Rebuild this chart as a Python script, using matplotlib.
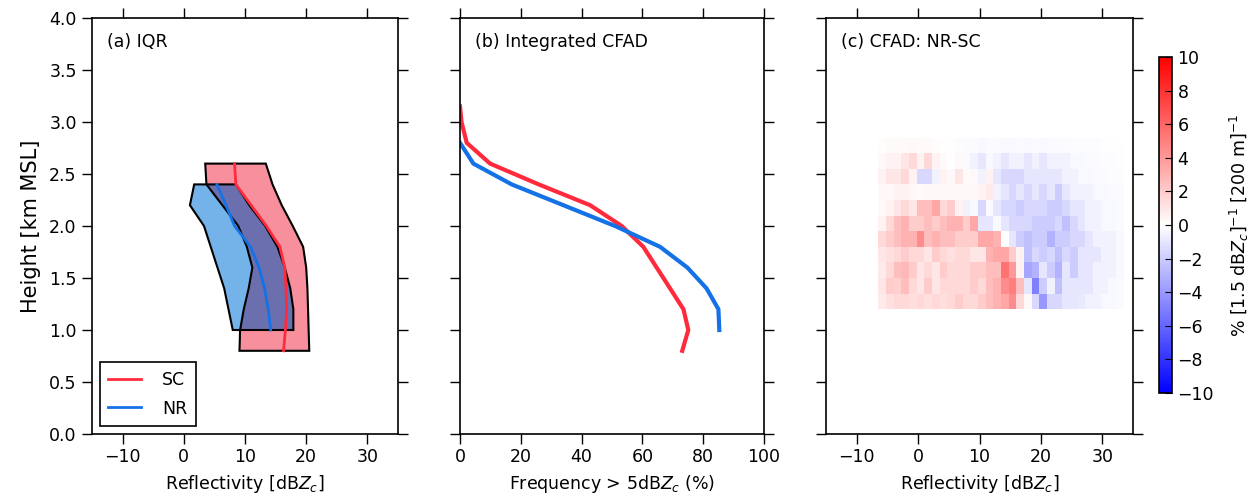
import numpy as np
import matplotlib
matplotlib.use("Agg")
import matplotlib.pyplot as plt

# ---------------- data ----------------
# (a) IQR profiles
sc_height = [0.8, 1.0, 1.2, 1.4, 1.6, 1.8, 2.0, 2.2, 2.4, 2.6]
sc_q1     = [9.1, 9.2, 9.8, 10.6, 11.2, 10.3, 8.9, 6.3, 3.7, 3.5]
sc_med    = [16.3, 16.6, 16.8, 16.7, 16.5, 15.7, 13.5, 11.0, 8.5, 8.3]
sc_q3     = [20.5, 20.4, 20.3, 20.2, 20.0, 19.5, 17.8, 16.0, 14.5, 13.4]

nr_height = [1.0, 1.2, 1.4, 1.6, 1.8, 2.0, 2.2, 2.4]
nr_q1     = [8.0, 7.3, 6.6, 5.5, 4.4, 3.3, 1.0, 1.7]
nr_med    = [14.2, 13.8, 13.2, 12.3, 10.9, 8.3, 6.9, 5.4]
nr_q3     = [17.9, 17.9, 17.4, 16.5, 15.3, 13.3, 10.7, 8.5]

# (b) integrated CFAD: frequency > 5 dBZ (%)
sc_freq_height = [3.15, 3.0, 2.8, 2.6, 2.4, 2.2, 2.0, 1.8, 1.6, 1.4, 1.2, 1.0, 0.8]
sc_freq        = [0.0, 0.5, 2.2, 9.9, 25.9, 42.8, 53.2, 60.3, 64.7, 69.1, 73.5, 75.1, 73.1]
nr_freq_height = [2.8, 2.6, 2.4, 2.2, 2.0, 1.8, 1.6, 1.4, 1.2, 1.0]
nr_freq        = [0.0, 4.4, 17.0, 34.0, 51.0, 65.8, 74.8, 81.1, 85.0, 85.3]

# (c) CFAD difference NR-SC, rows from bottom (1.2 km) upward, bins of reflectivity
cfad_x0, cfad_dx = -6.5, 1.25
cfad_y0, cfad_dy = 1.2, 0.15
cfad_diff = [
    [0.8, 1.2, 1.5, 1.5, 1.3, 1.5, 1.2, 1.5, 1.3, 1.5, 2.0, 1.5, 1.5, 2.0, 2.5, 3.0, 3.5, 4.5, 1.5, 0.3, -1.5,
     -4.0, -1.5, -1.5, -1.0, -1.0, -0.8, -0.5, -0.5, -0.3, -0.3, -0.2],
    [1.0, 2.0, 1.8, 2.5, 1.5, 1.0, 2.0, 1.0, 1.5, 1.5, 1.5, 1.5, 2.0, 1.5, 2.5, 3.0, 4.5, 5.0, 2.5, -1.0, -5.0,
     -2.0, -0.5, -2.5, -1.0, -1.0, -1.0, -1.0, -0.5, -0.5, -0.3, -0.2],
    [0.8, 1.5, 2.5, 2.8, 2.0, 1.0, 1.5, 1.0, 2.0, 1.5, 1.5, 1.5, 2.0, 2.0, 2.5, 2.5, 5.5, 4.0, 0.5, -3.5, -3.0,
     -1.0, -2.0, -3.0, -1.0, -2.0, -1.0, -1.0, -0.5, -0.5, -0.5, -0.3],
    [1.0, 1.2, 1.5, 2.0, 1.5, 1.5, 1.0, 2.0, 1.5, 1.2, 1.5, 1.5, 1.0, 1.0, 3.0, 3.5, 3.5, 2.0, 0.5, -2.5, -1.5,
     -2.0, -1.5, -2.5, -1.5, -2.0, -1.0, -1.0, -1.0, -0.5, -0.5, -0.3],
    [1.5, 2.0, 2.5, 3.0, 3.0, 4.5, 2.5, 3.0, 2.5, 2.5, 2.0, 2.0, 2.0, 3.5, 3.5, 3.0, 0.0, -1.0, -2.0, -2.5, -2.0,
     -2.0, -3.0, -2.0, -2.0, -1.5, -1.5, -1.0, -0.5, -0.5, -0.5, -0.3],
    [0.5, 1.5, 2.5, 3.0, 2.0, 2.0, 2.5, 2.0, 2.5, 3.0, 3.0, 2.0, 3.5, -1.0, -1.0, -0.3, -1.0, -1.5, -1.5, -1.5, -2.0,
     -2.0, -2.0, -1.5, -2.5, -1.5, -1.0, -0.5, -0.5, -0.3, -0.3, -0.2],
    [0.3, 0.5, 1.0, 1.5, 1.0, 2.5, 2.5, 3.5, 1.5, 2.0, 0.5, -0.5, -0.3, -1.5, -0.2, -1.0, -1.5, -1.5, -2.0, -1.5, -1.5,
     -1.5, -2.0, -2.0, -1.5, -1.0, -1.0, -0.5, -0.5, -0.3, -0.3, -0.2],
    [0.3, 0.3, 0.5, 0.5, 0.3, 0.2, 0.3, 0.3, 0.3, 0.3, 0.3, 0.3, 0.3, 0.5, 0.8, -0.5, -1.0, -1.5, -1.0, -1.5, -1.0,
     -1.5, -1.0, -2.0, -1.0, -0.5, -0.5, -0.5, -0.3, -0.3, -0.2, -0.2],
    [0.5, 1.0, 1.0, 1.5, 0.5, -1.5, -1.5, -0.5, 0.5, 0.3, 1.0, 0.2, 0.3, -0.5, 0.5, -1.0, -1.5, -1.5, -1.5, -1.0, -1.0,
     -1.0, -1.0, -1.0, -0.5, -0.5, -0.3, -0.3, -0.2, -0.2, -0.1, -0.1],
    [0.3, 0.5, 0.5, 1.0, 1.5, 0.5, 1.5, 0.5, 0.2, 0.0, 0.2, -0.2, -0.5, -1.0, -0.3, -0.5, -1.0, -0.5, -0.5, -1.0, -0.5,
     -1.0, -0.5, -0.5, -0.5, -0.3, -0.3, -0.2, -0.2, -0.1, -0.1, 0.0],
    [0.1, 0.2, 0.2, 0.2, 0.3, 0.2, 0.2, 0.1, 0.0, 0.0, -0.1, -0.2, -0.2, -0.3, -0.2, -0.2, -0.3, -0.3, -0.2, -0.3, -0.2,
     -0.3, -0.2, -0.2, -0.2, -0.1, -0.1, -0.1, -0.1, 0.0, 0.0, 0.0],
]

refl_ticks = [-10, 0, 10, 20, 30]
freq_ticks = [0, 20, 40, 60, 80, 100]
height_ticks = [0.0, 0.5, 1.0, 1.5, 2.0, 2.5, 3.0, 3.5, 4.0]
cbar_ticks = [-10, -8, -6, -4, -2, 0, 2, 4, 6, 8, 10]

# ---------------- style ----------------
plt.rcParams['font.family'] = ['DejaVu Sans']
plt.rcParams['mathtext.fontset'] = 'dejavusans'
RED = '#ff2b3c'
BLUE = '#1472e6'
RED_FILL = '#f7909c'
BLUE_FILL = '#74b2ea'
OVER_FILL = '#6b6fae'
TICKFS = 12.5

fig = plt.figure(figsize=(12.53, 5.0), dpi=100)
axa = fig.add_axes([92/1253, 1-434/500, 306/1253, 416/500])
axb = fig.add_axes([460/1253, 1-434/500, 304/1253, 416/500])
axc = fig.add_axes([826/1253, 1-434/500, 307/1253, 416/500])
cax = fig.add_axes([1159/1253, 1-393/500, 13/1253, 336/500])

for ax in (axa, axb, axc):
    ax.set_ylim(0, 4)
    ax.set_yticks(height_ticks)
    ax.tick_params(direction='out', length=7, width=1, top=True, right=True,
                   labelsize=TICKFS, pad=4)
    ax.tick_params(axis='x', pad=3)
    for s in ax.spines.values():
        s.set_linewidth(1.2)

# ---- (a) ----
sc_h = np.array(sc_height); nr_h = np.array(nr_height)
axa.fill_betweenx(sc_h, sc_q1, sc_q3, facecolor=RED_FILL, edgecolor='none', zorder=1)
axa.fill_betweenx(nr_h, nr_q1, nr_q3, facecolor=BLUE_FILL, edgecolor='none', zorder=2)
sc_q1_on_nr = np.interp(nr_h, sc_h, sc_q1)
sc_q3_on_nr = np.interp(nr_h, sc_h, sc_q3)
axa.fill_betweenx(nr_h, np.maximum(sc_q1_on_nr, nr_q1), np.minimum(sc_q3_on_nr, nr_q3),
                  facecolor=OVER_FILL, edgecolor='none', zorder=3)
axa.fill(list(sc_q1) + list(sc_q3)[::-1], list(sc_height) + list(sc_height)[::-1],
         facecolor='none', edgecolor='k', lw=1.5, zorder=4)
axa.fill(list(nr_q1) + list(nr_q3)[::-1], list(nr_height) + list(nr_height)[::-1],
         facecolor='none', edgecolor='k', lw=1.5, zorder=4)
axa.plot(sc_med, sc_height, color=RED, lw=2, label='SC', zorder=5)
axa.plot(nr_med, nr_height, color=BLUE, lw=2, label='NR', zorder=5)
axa.set_xlim(-15, 35)
axa.set_xticks(refl_ticks)
axa.set_yticklabels(['%.1f' % v for v in height_ticks])
axa.set_ylabel('Height [km MSL]', fontsize=15, labelpad=6)
axa.set_xlabel(r'Reflectivity [dB$Z_c$]', fontsize=12.5, labelpad=5)
axa.text(0.05, 0.942, '(a) IQR', transform=axa.transAxes, fontsize=12.5, va='center')
leg = axa.legend(loc='lower left', fontsize=12.5, fancybox=False, edgecolor='k',
                 framealpha=1, handlelength=1.9, borderaxespad=0.45, handletextpad=1.2,
                 borderpad=0.5, labelspacing=0.6)
leg.get_frame().set_linewidth(1.2)

# ---- (b) ----
axb.plot(sc_freq, sc_freq_height, color=RED, lw=3)
axb.plot(nr_freq, nr_freq_height, color=BLUE, lw=3)
axb.set_xlim(0, 100)
axb.set_xticks(freq_ticks)
axb.set_yticklabels([])
axb.set_xlabel(r'Frequency > 5dB$Z_c$ (%)', fontsize=12.5, labelpad=5)
axb.text(0.05, 0.942, '(b) Integrated CFAD', transform=axb.transAxes, fontsize=12.5, va='center')

# ---- (c) ----
Z = np.array(cfad_diff)
xe = cfad_x0 + cfad_dx * np.arange(Z.shape[1] + 1)
ye = cfad_y0 + cfad_dy * np.arange(Z.shape[0] + 1)
mesh = axc.pcolormesh(xe, ye, Z, cmap='bwr', vmin=-10, vmax=10)
axc.set_xlim(-15, 35)
axc.set_xticks(refl_ticks)
axc.set_yticklabels([])
axc.set_xlabel(r'Reflectivity [dB$Z_c$]', fontsize=12.5, labelpad=5)
axc.text(0.05, 0.942, '(c) CFAD: NR-SC', transform=axc.transAxes, fontsize=12.5, va='center')

cb = fig.colorbar(mesh, cax=cax, ticks=cbar_ticks)
cb.ax.tick_params(direction='in', length=5, labelsize=TICKFS, pad=4)
cb.outline.set_linewidth(1.2)
cb.set_label(r'% [1.5 dB$Z_c$]$^{-1}$ [200 m]$^{-1}$', fontsize=12.5, labelpad=10)

fig.savefig('out.png', dpi=100)
